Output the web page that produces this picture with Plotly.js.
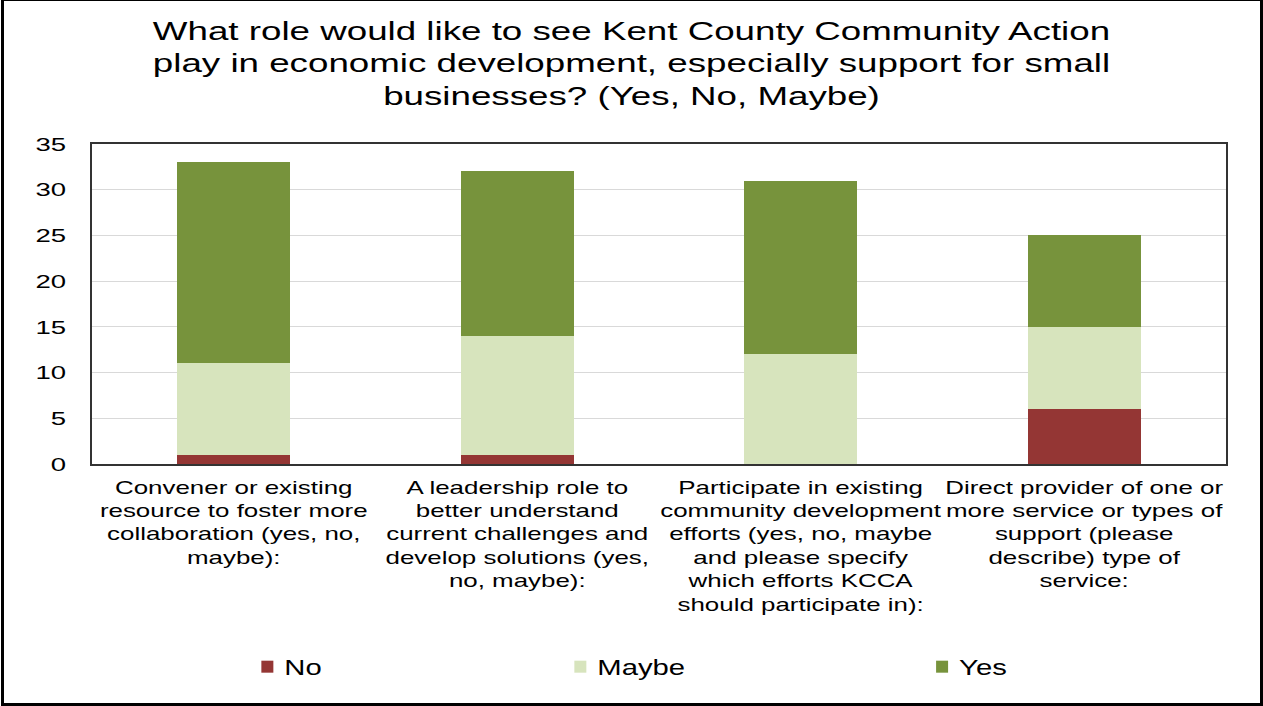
<!DOCTYPE html>
<html>
<head>
<meta charset="utf-8">
<script src="https://cdn.plot.ly/plotly-3.0.1.min.js"></script>
<style>
html,body{margin:0;padding:0;background:#fff;}
#wrap{position:absolute;left:0;top:0;width:1263px;height:706px;}
#frame{position:absolute;left:1px;top:-2px;width:1256px;height:702px;border:3px solid #000;pointer-events:none;}
#chart{position:absolute;left:0;top:0;width:1263px;height:706px;}
/* reference text is drawn horizontally widened; mimic with a horizontal stretch */
#chart g.xtick{transform:scaleX(1.44) !important;transform-box:fill-box !important;transform-origin:center !important;}
#chart g.ytick{transform:scaleX(1.45) !important;transform-box:fill-box !important;transform-origin:right center !important;}
#chart g.g-gtitle{transform:scaleX(1.47) !important;transform-box:fill-box !important;transform-origin:center !important;}
#chart text.legendtext, #chart text.legend2text, #chart text.legend3text{
  transform:translateX(-3px) scaleX(1.33) !important;transform-box:fill-box !important;transform-origin:left center !important;}
#chart g.scrollbox{clip-path:none !important;}
</style>
</head>
<body>
<div id="wrap"><div id="chart"></div><div id="frame"></div></div>
<script>
const categories = [
  "Convener or existing<br>resource to foster more<br>collaboration (yes, no,<br>maybe):",
  "A leadership role to<br>better understand<br>current challenges and<br>develop solutions (yes,<br>no, maybe):",
  "Participate in existing<br>community development<br>efforts (yes, no, maybe<br>and please specify<br>which efforts KCCA<br>should participate in):",
  "Direct provider of one or<br>more service or types of<br>support (please<br>describe) type of<br>service:"
];
const noValues = [1, 1, 0, 6];
const maybeValues = [10, 13, 12, 9];
const yesValues = [22, 18, 19, 10];
const yTicks = [0, 5, 10, 15, 20, 25, 30, 35];

const FONT = "Liberation Sans, Arial, sans-serif";

const traces = [
  {type:'bar', name:'No', x:categories, y:noValues, marker:{color:'#943634', line:{width:0}}, legend:'legend'},
  {type:'bar', name:'Maybe', x:categories, y:maybeValues, marker:{color:'#D7E4BD', line:{width:0}}, legend:'legend2'},
  {type:'bar', name:'Yes', x:categories, y:yesValues, marker:{color:'#77933C', line:{width:0}}, legend:'legend3'}
];

const legendBase = {orientation:'h', yanchor:'middle', y:-0.634, xanchor:'left',
  entrywidth:150, entrywidthmode:'pixels',
  font:{family:FONT, size:22, color:'#000'}, bgcolor:'rgba(0,0,0,0)', borderwidth:0};

const layout = {
  width:1263, height:706,
  margin:{l:92, r:37, t:144, b:242},
  paper_bgcolor:'#fff', plot_bgcolor:'#fff',
  barmode:'stack', bargap:0.6,
  font:{family:FONT, color:'#000'},
  title:{text:"What role would like to see Kent County Community Action<br>play in economic development, especially support for small<br>businesses? (Yes, No, Maybe)",
    font:{family:FONT, size:25, color:'#000'}, x:0.5, xanchor:'center', y:0.944, yanchor:'top'},
  xaxis:{type:'category', showgrid:false, showline:true, mirror:true, linecolor:'#333', linewidth:2,
    ticks:'', ticklabelstandoff:6, tickfont:{family:FONT, size:18, color:'#000'}, tickangle:0, automargin:false},
  yaxis:{range:[0,35], tickvals:yTicks, showgrid:true, gridcolor:'#d9d9d9', gridwidth:1,
    showline:true, mirror:true, linecolor:'#333', linewidth:2, ticks:'', zeroline:false,
    ticklabelstandoff:20, tickfont:{family:FONT, size:19, color:'#000'}, automargin:false},
  showlegend:true,
  legend:Object.assign({}, legendBase, {x:0.137}),
  legend2:Object.assign({}, legendBase, {x:0.413}),
  legend3:Object.assign({}, legendBase, {x:0.732})
};

Plotly.newPlot('chart', traces, layout, {displayModeBar:false, staticPlot:true});
</script>
</body>
</html>
